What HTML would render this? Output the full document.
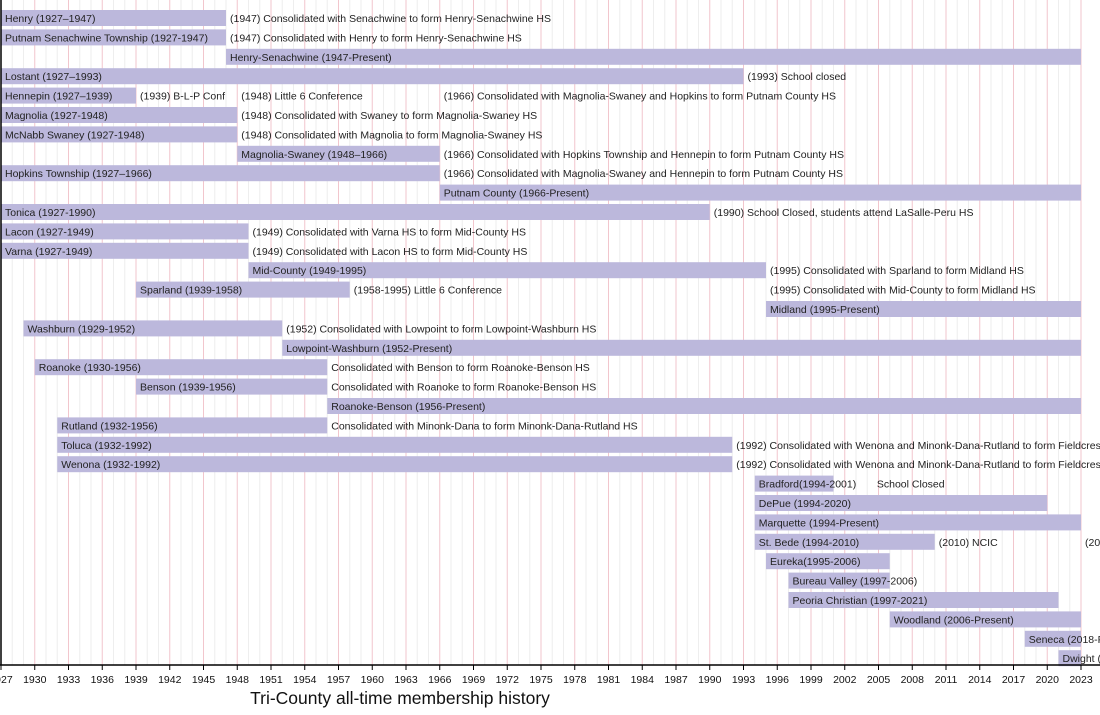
<!DOCTYPE html>
<html><head><meta charset="utf-8"><style>
html,body{margin:0;padding:0;background:#fff;}
svg{display:block;font-family:"Liberation Sans",Arial,sans-serif;}
</style></head><body>
<svg id="s" width="1100" height="715" xmlns="http://www.w3.org/2000/svg"></svg>
<script>
const s=document.getElementById('s');
const X=y=>1+(y-1927)*11.25;
let h='';
for(let y=1927;y<=2023;y++){
  const x=X(y);
  if((y-1927)%3==0) h+=`<line x1="${x}" y1="0" x2="${x}" y2="665" stroke="#f2c6cd" stroke-width="1"/>`;
  else h+=`<line x1="${x}" y1="0" x2="${x}" y2="665" stroke="#eeeeee" stroke-width="1"/>`;
}
const rows=[
[1927,1947,"Henry (1927–1947)",[[1947,"(1947) Consolidated with Senachwine to form Henry-Senachwine HS"]]],
[1927,1947,"Putnam Senachwine Township (1927-1947)",[[1947,"(1947) Consolidated with Henry to form Henry-Senachwine HS"]]],
[1947,2023,"Henry-Senachwine (1947-Present)",[]],
[1927,1993,"Lostant (1927–1993)",[[1993,"(1993) School closed"]]],
[1927,1939,"Hennepin (1927–1939)",[[1939,"(1939) B-L-P Conf"],[1948,"(1948) Little 6 Conference"],[1966,"(1966) Consolidated with Magnolia-Swaney and Hopkins to form Putnam County HS"]]],
[1927,1948,"Magnolia (1927-1948)",[[1948,"(1948) Consolidated with Swaney to form Magnolia-Swaney HS"]]],
[1927,1948,"McNabb Swaney (1927-1948)",[[1948,"(1948) Consolidated with Magnolia to form Magnolia-Swaney HS"]]],
[1948,1966,"Magnolia-Swaney (1948–1966)",[[1966,"(1966) Consolidated with Hopkins Township and Hennepin to form Putnam County HS"]]],
[1927,1966,"Hopkins Township (1927–1966)",[[1966,"(1966) Consolidated with Magnolia-Swaney and Hennepin to form Putnam County HS"]]],
[1966,2023,"Putnam County (1966-Present)",[]],
[1927,1990,"Tonica (1927-1990)",[[1990,"(1990) School Closed, students attend LaSalle-Peru HS"]]],
[1927,1949,"Lacon (1927-1949)",[[1949,"(1949) Consolidated with Varna HS to form Mid-County HS"]]],
[1927,1949,"Varna (1927-1949)",[[1949,"(1949) Consolidated with Lacon HS to form Mid-County HS"]]],
[1949,1995,"Mid-County (1949-1995)",[[1995,"(1995) Consolidated with Sparland to form Midland HS"]]],
[1939,1958,"Sparland (1939-1958)",[[1958,"(1958-1995) Little 6 Conference"],[1995,"(1995) Consolidated with Mid-County to form Midland HS"]]],
[1995,2023,"Midland (1995-Present)",[]],
[1929,1952,"Washburn (1929-1952)",[[1952,"(1952) Consolidated with Lowpoint to form Lowpoint-Washburn HS"]]],
[1952,2023,"Lowpoint-Washburn (1952-Present)",[]],
[1930,1956,"Roanoke (1930-1956)",[[1956,"Consolidated with Benson to form Roanoke-Benson HS"]]],
[1939,1956,"Benson (1939-1956)",[[1956,"Consolidated with Roanoke to form Roanoke-Benson HS"]]],
[1956,2023,"Roanoke-Benson (1956-Present)",[]],
[1932,1956,"Rutland (1932-1956)",[[1956,"Consolidated with Minonk-Dana to form Minonk-Dana-Rutland HS"]]],
[1932,1992,"Toluca (1932-1992)",[[1992,"(1992) Consolidated with Wenona and Minonk-Dana-Rutland to form Fieldcrest HS"]]],
[1932,1992,"Wenona (1932-1992)",[[1992,"(1992) Consolidated with Wenona and Minonk-Dana-Rutland to form Fieldcrest HS"]]],
[1994,2001,"Bradford(1994-2001)",[[2004.5,"School Closed"]]],
[1994,2020,"DePue (1994-2020)",[]],
[1994,2023,"Marquette (1994-Present)",[]],
[1994,2010,"St. Bede (1994-2010)",[[2010,"(2010) NCIC"],[2023,"(2023) NCIC"]]],
[1995,2006,"Eureka(1995-2006)",[]],
[1997,2006,"Bureau Valley (1997-2006)",[]],
[1997,2021,"Peoria Christian (1997-2021)",[]],
[2006,2023,"Woodland (2006-Present)",[]],
[2018,2023,"Seneca (2018-Present)",[]],
[2021,2023,"Dwight (2021-Present)",[]]
];
rows.forEach((r,i)=>{
  const c=18+i*19.4;
  const x1=X(r[0]),x2=X(r[1]);
  h+=`<rect x="${x1}" y="${c-8}" width="${x2-x1}" height="16" fill="#bcb8dc"/>`;
});
rows.forEach((r,i)=>{
  const c=18+i*19.4;
  h+=`<text x="${X(r[0])+4}" y="${c+4}" font-size="10.5" fill="#222">${r[2]}</text>`;
  r[3].forEach(n=>{h+=`<text x="${X(n[0])+4}" y="${c+4}" font-size="10.5" fill="#222">${n[1]}</text>`;});
});
h+=`<line x1="0" y1="665" x2="1100" y2="665" stroke="#000" stroke-width="1.5"/>`;
h+=`<line x1="1" y1="0" x2="1" y2="665" stroke="#000" stroke-width="1.5"/>`;
for(let y=1927;y<=2023;y+=3){
  const x=X(y);
  h+=`<line x1="${x}" y1="665" x2="${x}" y2="670" stroke="#000"/>`;
  h+=`<text x="${x}" y="683" font-size="10.5" text-anchor="middle" fill="#111">${y}</text>`;
}
h+=`<text x="400" y="704" font-size="17.5" text-anchor="middle" fill="#111">Tri-County all-time membership history</text>`;
s.innerHTML=h;
</script>
</body></html>
